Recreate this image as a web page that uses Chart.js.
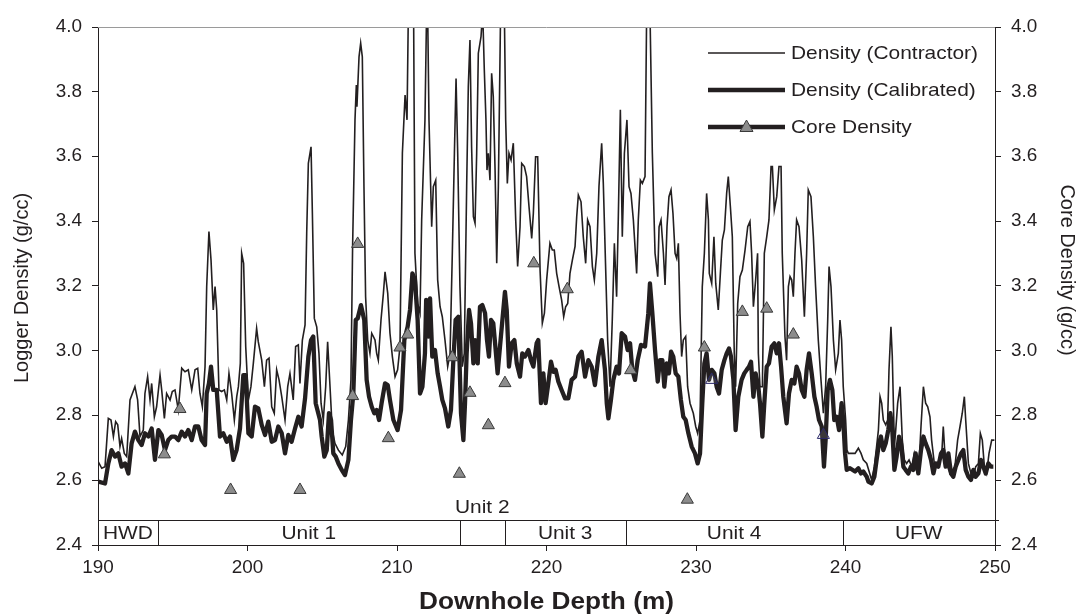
<!DOCTYPE html>
<html>
<head>
<meta charset="utf-8">
<script src="https://cdn.jsdelivr.net/npm/chart.js@4/dist/chart.umd.min.js"></script>
<style>
  html, body { margin: 0; padding: 0; background: #fff; }
  #wrap { width: 1079px; height: 616px; }
</style>
</head>
<body>
<div id="wrap"><canvas id="densityChart" width="1079" height="616"></canvas></div>
<script>
// density log vs depth, with core samples and unit band

const contractorDepth = [190.02,190.25,190.47,190.69,190.87,191.03,191.18,191.32,191.47,191.58,191.76,191.92,192.14,192.30,192.47,192.65,192.81,193.03,193.14,193.32,193.48,193.59,193.77,193.92,194.15,194.26,194.44,194.59,194.82,194.97,195.15,195.37,195.60,195.82,196.04,196.27,196.49,196.67,196.82,196.98,197.16,
  197.27,197.42,197.56,197.71,197.83,197.94,198.09,198.27,198.45,198.61,198.76,198.94,199.12,199.28,199.39,199.52,199.61,199.74,199.88,200.06,200.23,200.39,200.61,200.72,200.95,201.13,201.28,201.44,201.62,201.79,201.95,202.11,202.29,202.51,202.69,202.84,203.06,203.22,203.40,203.51,203.67,203.85,203.96,204.07,204.25,204.34,204.47,204.63,
  204.78,204.92,205.07,205.23,205.36,205.52,205.67,205.85,206.08,206.34,206.57,206.75,206.92,207.03,207.19,207.28,207.32,207.46,207.57,207.68,207.79,207.90,208.04,208.19,208.31,208.42,208.53,208.64,208.75,208.93,209.09,209.20,209.38,209.53,209.69,209.87,210.04,210.20,210.36,210.54,210.67,210.76,211.11,211.20,211.38,211.54,211.65,211.87,211.98,
  212.05,212.14,212.23,212.32,212.43,212.59,212.72,212.88,213.03,213.21,213.39,213.55,213.70,213.84,213.95,214.06,214.21,214.37,214.50,214.66,214.77,214.88,214.99,215.11,215.22,215.33,215.44,215.62,215.73,215.84,215.95,216.02,216.11,216.22,216.33,216.44,216.56,216.67,216.78,216.93,217.18,217.27,217.38,217.49,217.63,217.78,217.94,218.07,218.23,218.34,218.52,218.67,218.83,219.01,219.12,219.27,219.41,
  219.57,219.72,219.86,220.01,220.23,220.39,220.52,220.68,220.84,221.01,221.15,221.28,221.42,221.57,221.73,221.91,222.02,222.13,222.31,222.46,222.62,222.75,222.91,223.07,223.20,223.36,223.51,223.69,223.80,223.96,224.09,224.25,224.40,224.54,224.69,224.80,224.94,225.07,225.21,225.38,225.52,225.65,225.81,226.03,226.14,226.28,226.41,226.59,226.70,
  226.92,227.08,227.26,227.44,227.53,227.66,227.82,227.93,228.06,228.19,228.33,228.46,228.60,228.71,228.82,228.93,229.04,229.15,229.31,229.44,229.60,229.82,229.98,230.11,230.27,230.42,230.56,230.71,230.83,230.89,231.05,231.20,231.32,231.49,231.63,231.76,231.90,232.05,232.16,232.30,232.43,232.56,232.65,232.79,232.94,233.10,233.28,233.46,233.61,233.72,233.84,233.99,234.12,
  234.17,234.28,234.44,234.57,234.73,234.88,235.02,235.11,235.24,235.40,235.55,235.69,235.77,235.95,236.06,236.18,236.29,236.40,236.51,236.62,236.73,236.89,237.07,237.25,237.40,237.51,237.69,237.85,238.00,238.18,238.36,238.52,238.67,238.81,238.90,239.03,239.19,239.34,239.52,239.63,239.74,239.85,240.01,240.10,240.19,240.41,240.64,240.86,241.04,241.19,241.42,
  241.75,241.93,242.08,242.20,242.31,242.42,242.53,242.69,242.82,242.91,243.04,243.13,243.27,243.36,243.49,243.65,243.80,243.94,244.09,244.25,244.43,244.60,244.76,244.92,245.05,245.21,245.36,245.50,245.65,245.76,245.94,246.10,246.25,246.43,246.54,246.66,246.83,246.99,247.15,247.32,247.50,247.66,247.81,247.95,248.04,248.22,248.39,248.55,248.71,248.89,249.02,249.15,249.29,249.44,249.60,249.78,249.96];
const contractorDensity = [2.657,2.637,2.642,2.791,2.786,2.735,2.781,2.771,2.704,2.729,2.683,2.673,2.848,2.868,2.889,2.848,2.735,2.755,2.868,2.920,2.848,2.899,2.796,2.827,2.925,2.879,2.791,2.868,2.848,2.874,2.879,2.817,2.946,2.935,2.941,2.879,2.941,2.946,2.868,2.827,2.951,
  3.198,3.368,3.280,3.126,3.198,3.126,2.879,2.874,2.879,2.848,2.930,2.868,2.786,2.858,2.889,2.961,3.301,3.270,3.013,2.848,2.889,2.961,3.069,3.028,2.971,2.889,2.971,2.977,2.827,2.807,2.941,2.910,2.858,2.786,2.889,2.930,2.848,3.013,3.018,2.899,3.033,3.080,3.363,3.579,3.630,3.424,3.100,3.074,
  2.992,2.838,2.786,2.889,3.028,2.889,2.755,2.714,2.693,2.678,2.704,2.786,2.910,3.322,3.713,3.821,3.754,3.908,3.950,3.908,3.507,3.167,3.033,2.992,3.054,3.044,3.033,2.992,2.971,3.095,3.177,3.244,3.177,3.054,2.982,2.920,2.941,3.013,3.610,3.790,3.713,4.05,4.05,3.301,3.146,3.116,3.404,3.713,4.05,
  4.05,3.713,3.548,3.383,3.507,3.527,3.219,3.136,3.105,3.033,2.951,2.992,3.301,3.610,3.841,3.610,3.198,2.951,2.992,3.507,3.816,3.960,3.630,3.414,3.394,3.610,3.919,3.970,4.05,3.867,3.713,3.558,3.610,3.527,3.857,3.785,3.558,3.270,3.507,4.05,4.05,3.713,3.517,3.610,3.589,3.641,3.404,3.260,3.383,3.579,3.569,3.538,3.445,3.347,3.424,3.599,3.599,
  3.249,3.085,3.116,3.219,3.332,3.311,3.311,3.239,3.198,3.157,3.105,3.136,3.146,3.239,3.280,3.322,3.414,3.481,3.460,3.352,3.270,3.404,3.383,3.260,3.219,3.301,3.507,3.641,3.517,3.249,3.033,2.889,3.095,3.332,3.167,3.404,3.744,3.352,3.610,3.713,3.507,3.486,3.404,3.239,3.404,3.527,3.517,3.538,4.05,
  4.05,3.610,3.301,3.229,3.383,3.404,3.301,3.203,3.383,3.476,3.497,3.424,3.301,3.285,3.332,3.116,2.982,3.033,3.044,2.889,2.838,2.807,2.766,2.745,2.786,3.198,3.301,3.486,3.404,3.239,3.208,3.352,3.208,3.126,3.239,3.342,3.373,3.486,3.538,3.445,3.352,2.992,2.889,3.146,3.229,3.249,3.311,3.383,3.399,3.301,3.136,3.219,3.301,
  2.992,2.889,2.889,3.301,3.352,3.404,3.569,3.569,3.435,3.476,3.569,3.569,3.301,3.044,2.971,3.198,3.229,3.219,3.167,3.301,3.404,3.383,3.280,3.105,3.301,3.497,3.476,3.352,3.198,3.033,2.910,2.807,2.889,3.095,3.260,3.198,3.033,2.941,2.992,3.095,3.033,2.889,2.786,2.693,2.683,2.683,2.683,2.699,2.683,2.663,2.652,
  2.601,2.642,2.704,2.755,2.858,2.838,2.786,2.771,2.786,2.941,3.074,2.982,2.704,2.755,2.838,2.889,2.724,2.663,2.652,2.663,2.642,2.683,2.652,2.652,2.766,2.889,2.838,2.827,2.796,2.724,2.652,2.642,2.663,2.673,2.766,2.673,2.642,2.621,2.632,2.642,2.724,2.766,2.807,2.858,2.786,2.652,2.621,2.611,2.642,2.652,2.745,2.724,2.642,2.621,2.683,2.724,2.724];

const calibratedDepth = [190.02,190.47,190.69,190.91,191.14,191.36,191.58,191.81,192.03,192.25,192.47,192.70,192.92,193.14,193.37,193.59,193.81,194.04,194.26,194.48,194.70,194.93,195.15,195.37,195.60,195.82,196.04,196.27,196.49,196.71,196.93,197.16,
  197.27,197.42,197.56,197.71,197.94,198.16,198.38,198.61,198.83,199.05,199.27,199.50,199.72,199.88,200.06,200.28,200.50,200.72,200.95,201.17,201.39,201.62,201.84,202.06,202.29,202.51,202.73,202.95,203.18,203.40,203.62,203.85,204.07,204.25,204.40,204.56,204.85,
  204.96,205.14,205.30,205.45,205.59,205.74,205.90,206.08,206.30,206.52,206.75,206.92,207.08,207.24,207.37,207.59,207.81,207.97,208.13,208.31,208.48,208.64,208.80,208.97,209.20,209.38,209.53,209.76,210.04,210.27,210.49,210.71,210.87,211.03,211.20,211.38,211.54,211.70,211.87,211.95,
  212.10,212.21,212.36,212.54,212.72,212.88,213.03,213.21,213.43,213.61,213.77,213.92,214.10,214.28,214.44,214.55,214.66,214.82,214.95,215.11,215.22,215.40,215.55,215.71,215.89,216.02,216.15,216.29,216.44,216.56,216.73,216.89,217.05,217.22,217.34,217.49,217.67,217.85,218.01,218.23,218.38,218.56,218.79,218.96,219.12,219.34,
  219.45,219.63,219.79,219.94,220.12,220.30,220.46,220.61,220.79,221.01,221.24,221.46,221.68,221.91,222.13,222.35,222.58,222.80,223.02,223.24,223.47,223.69,223.91,224.03,224.14,224.31,224.47,224.69,224.85,225.03,225.25,225.43,225.59,225.74,225.92,226.10,226.32,226.59,226.81,
  226.92,227.08,227.26,227.44,227.59,227.75,227.88,228.04,228.19,228.33,228.48,228.64,228.82,228.99,229.15,229.31,229.49,229.71,229.93,230.11,230.27,230.42,230.56,230.71,230.87,231.05,231.23,231.38,231.54,231.72,231.90,232.05,232.21,232.34,232.50,232.65,232.83,233.05,233.23,233.39,233.55,233.68,233.84,233.99,234.17,
  234.28,234.44,234.57,234.73,234.88,235.06,235.24,235.40,235.55,235.69,235.84,236.06,236.22,236.40,236.58,236.73,236.89,237.07,237.25,237.40,237.56,237.74,237.92,238.07,238.23,238.41,238.56,238.67,238.81,238.96,239.12,239.25,239.41,239.57,239.74,239.85,239.97,240.08,240.30,240.64,240.86,241.04,241.19,241.42,
  241.53,241.75,241.93,242.08,242.24,242.37,242.53,242.69,242.86,243.00,243.13,243.27,243.42,243.58,243.71,243.87,244.02,244.20,244.38,244.54,244.69,244.87,245.05,245.21,245.36,245.54,245.72,245.88,246.03,246.21,246.39,246.54,246.70,246.88,247.06,247.21,247.37,247.55,247.73,247.88,248.04,248.22,248.39,248.55,248.71,248.89,249.06,249.22,249.38,249.55,249.73,249.89];
const calibratedDensity = [2.596,2.590,2.652,2.693,2.673,2.683,2.642,2.652,2.621,2.714,2.750,2.724,2.709,2.745,2.735,2.760,2.663,2.755,2.740,2.693,2.724,2.735,2.735,2.724,2.750,2.735,2.755,2.724,2.766,2.766,2.724,2.709,
  2.868,2.899,2.951,2.879,2.879,2.735,2.745,2.719,2.735,2.663,2.693,2.760,2.925,2.925,2.745,2.735,2.827,2.822,2.771,2.740,2.781,2.719,2.724,2.766,2.745,2.683,2.740,2.719,2.760,2.796,2.766,2.853,2.982,3.033,3.044,2.838,2.786,
  2.735,2.673,2.693,2.807,2.786,2.683,2.673,2.652,2.632,2.616,2.663,2.786,2.868,3.095,3.100,3.141,3.095,2.910,2.858,2.827,2.807,2.817,2.786,2.838,2.899,2.894,2.848,2.786,2.755,2.817,3.033,3.074,3.126,3.239,3.219,3.095,2.868,2.889,2.992,3.157,
  3.044,3.162,2.982,3.002,2.930,2.889,2.848,2.822,2.766,2.817,2.971,3.095,3.105,2.807,2.724,2.838,2.992,3.126,3.085,2.961,3.033,2.961,3.136,3.141,3.116,3.033,2.982,3.095,3.085,3.023,2.930,3.013,3.095,3.182,3.126,2.951,3.023,3.033,2.961,2.920,2.992,2.982,3.002,2.971,2.951,3.023,
  3.033,2.838,2.930,2.838,2.899,2.966,2.935,2.941,2.905,2.879,2.853,2.853,2.910,2.920,2.982,2.997,2.920,2.971,2.951,2.894,2.982,3.033,2.941,2.838,2.791,2.848,2.910,2.951,2.930,3.054,3.044,3.002,3.023,2.941,2.910,2.971,3.018,3.013,3.116,
  3.208,3.116,3.002,2.905,2.971,2.971,2.889,2.961,2.930,2.997,2.982,2.930,2.920,2.848,2.796,2.786,2.745,2.704,2.683,2.652,2.683,2.838,2.961,2.992,2.910,2.941,2.930,2.889,2.868,2.941,2.971,2.992,3.007,2.982,2.910,2.755,2.858,2.910,2.930,2.941,2.951,2.966,2.858,2.930,2.889,
  2.838,2.735,2.838,2.951,2.961,3.013,3.023,2.992,3.023,2.951,2.858,2.776,2.868,2.910,2.899,2.951,2.930,2.879,2.858,2.941,2.992,2.930,2.858,2.827,2.786,2.766,2.642,2.724,2.879,2.910,2.879,2.786,2.796,2.755,2.838,2.786,2.683,2.632,2.637,2.627,2.637,2.621,2.627,2.611,
  2.596,2.590,2.611,2.663,2.714,2.735,2.693,2.714,2.755,2.807,2.755,2.632,2.673,2.735,2.714,2.642,2.632,2.621,2.642,2.632,2.683,2.621,2.693,2.735,2.714,2.693,2.663,2.621,2.652,2.642,2.683,2.693,2.642,2.683,2.621,2.611,2.642,2.663,2.683,2.693,2.632,2.611,2.601,2.632,2.611,2.621,2.663,2.642,2.621,2.652,2.642,2.642];

const coreDepth = [194.44,195.48,198.87,203.51,207.03,207.37,209.42,210.20,210.71,213.70,214.17,214.88,216.11,217.22,219.15,221.39,225.63,229.42,230.56,231.05,233.10,234.73,236.51,238.52];
const coreDensity = [2.68,2.82,2.57,2.57,2.86,3.33,2.73,3.01,3.05,2.98,2.62,2.87,2.77,2.90,3.27,3.19,2.94,2.54,3.01,2.91,3.12,3.13,3.05,2.74];
const hollowCore = [19, 23]; // drawn as open outline in the original

const unitBounds = [190, 194.0, 214.2, 217.2, 225.3, 239.8, 250];
const unitNames = ['HWD', 'Unit 1', 'Unit 2', 'Unit 3', 'Unit 4', 'UFW'];
const unitBandTop = 2.477;

const legendNames = ['Density (Contractor)', 'Density (Calibrated)', 'Core Density'];

const INK = '#231f20';
const FONT = "'Liberation Sans', Arial, sans-serif";
const SX = 1.13; // the original lettering is a little wide

function pairs(xs, ys) {
    return xs.map((x, i) => ({ x: x, y: ys[i] }));
}

// text with a horizontal stretch, to match the wide lettering
function wideText(ctx, s, x, y, size, align, bold, sx) {
    ctx.save();
    ctx.font = (bold ? 'bold ' : '') + size + 'px ' + FONT;
    ctx.translate(x, y);
    ctx.scale(sx, 1);
    ctx.textAlign = align;
    ctx.textBaseline = 'middle';
    ctx.fillStyle = INK;
    ctx.fillText(s, 0, 0);
    ctx.restore();
}

function sideText(ctx, s, x, y, size, angle) {
    ctx.save();
    ctx.font = size + 'px ' + FONT;
    ctx.translate(x, y);
    ctx.rotate(angle);
    ctx.textAlign = 'center';
    ctx.textBaseline = 'middle';
    ctx.fillStyle = INK;
    ctx.fillText(s, 0, 0);
    ctx.restore();
}

const decor = {
    id: 'decor',
    afterDatasetsDraw(chart) {
        const ctx = chart.ctx;
        const xs = chart.scales.x;
        const ys = chart.scales.y;
        const a = chart.chartArea;
        ctx.save();

        // grey top frame
        ctx.strokeStyle = '#9a9a9a';
        ctx.lineWidth = 1;
        ctx.beginPath();
        ctx.moveTo(a.left, a.top + 0.5);
        ctx.lineTo(a.right, a.top + 0.5);
        ctx.stroke();

        // unit band
        const bandY = Math.round(ys.getPixelForValue(unitBandTop)) + 0.5;
        ctx.strokeStyle = INK;
        ctx.beginPath();
        ctx.moveTo(a.left, bandY);
        ctx.lineTo(a.right + 4, bandY);
        for (let i = 1; i < unitBounds.length - 1; i++) {
            const px = Math.round(xs.getPixelForValue(unitBounds[i])) + 0.5;
            ctx.moveTo(px, bandY);
            ctx.lineTo(px, a.bottom);
        }
        ctx.stroke();

        ctx.font = '18.5px ' + FONT;
        for (let i = 0; i < unitNames.length; i++) {
            const p0 = xs.getPixelForValue(unitBounds[i]);
            const p1 = xs.getPixelForValue(unitBounds[i + 1]);
            const tw = ctx.measureText(unitNames[i]).width * SX;
            const cy = tw + 6 > p1 - p0 ? bandY - 13 : (bandY + a.bottom) / 2 + 1;
            wideText(ctx, unitNames[i], (p0 + p1) / 2, cy, 18.5, 'center', false, SX);
        }

        // legend
        const lx0 = 708, lx1 = 785, tx = 791;
        const rows = [53, 90, 127];
        ctx.strokeStyle = INK;
        ctx.lineWidth = 1.5;
        ctx.beginPath(); ctx.moveTo(lx0, rows[0]); ctx.lineTo(lx1, rows[0]); ctx.stroke();
        ctx.lineWidth = 4.5;
        ctx.beginPath(); ctx.moveTo(lx0, rows[1]); ctx.lineTo(lx1, rows[1]); ctx.stroke();
        ctx.beginPath(); ctx.moveTo(lx0, rows[2]); ctx.lineTo(lx1, rows[2]); ctx.stroke();
        const mx = (lx0 + lx1) / 2;
        ctx.fillStyle = '#8c8c8c';
        ctx.lineWidth = 1;
        ctx.strokeStyle = '#3a3a3a';
        ctx.beginPath();
        ctx.moveTo(mx, rows[2] - 7);
        ctx.lineTo(mx + 6.5, rows[2] + 4.5);
        ctx.lineTo(mx - 6.5, rows[2] + 4.5);
        ctx.closePath();
        ctx.fill();
        ctx.stroke();
        legendNames.forEach((n, i) => wideText(ctx, n, tx, rows[i] + 1, 18.5, 'left', false, SX));

        ctx.restore();
    },
    afterDraw(chart) {
        const ctx = chart.ctx;
        const xs = chart.scales.x;
        const ys = chart.scales.y;
        const ys2 = chart.scales.y2;
        const a = chart.chartArea;

        // x axis line runs a little past the frame
        ctx.save();
        ctx.strokeStyle = INK;
        ctx.lineWidth = 1;
        ctx.beginPath();
        ctx.moveTo(a.left - 5, a.bottom + 0.5);
        ctx.lineTo(a.right + 5, a.bottom + 0.5);
        ctx.stroke();
        ctx.restore();

        // tick labels
        ys.ticks.forEach(t => wideText(ctx, t.value.toFixed(1), a.left - 16, ys.getPixelForValue(t.value), 17.5, 'right', false, 1.08));
        ys2.ticks.forEach(t => wideText(ctx, t.value.toFixed(1), a.right + 16, ys2.getPixelForValue(t.value), 17.5, 'left', false, 1.08));
        xs.ticks.forEach(t => wideText(ctx, String(t.value), xs.getPixelForValue(t.value), a.bottom + 23, 17.5, 'center', false, 1.08));

        // axis titles
        wideText(ctx, 'Downhole Depth (m)', (a.left + a.right) / 2, 603, 23, 'center', true, 1.14);
        sideText(ctx, 'Logger Density (g/cc)', 22, 288, 20, -Math.PI / 2);
        sideText(ctx, 'Core Density (g/cc)', 1067, 270, 20, Math.PI / 2);
    }
};

document.addEventListener('DOMContentLoaded', function() {
    const canvas = document.getElementById('densityChart');

    new Chart(canvas, {
        type: 'line',
        data: {
            datasets: [
                {
                    label: 'Core Density',
                    data: pairs(coreDepth, coreDensity),
                    yAxisID: 'y2',
                    showLine: false,
                    pointStyle: 'triangle',
                    pointRadius: 7,
                    pointBorderWidth: 1,
                    pointBackgroundColor: ctx => hollowCore.includes(ctx.dataIndex) ? 'rgba(200,200,210,0.15)' : '#8c8c8c',
                    pointBorderColor: ctx => hollowCore.includes(ctx.dataIndex) ? '#2c2a6a' : '#3a3a3a'
                },
                {
                    label: 'Density (Calibrated)',
                    data: pairs(calibratedDepth, calibratedDensity),
                    yAxisID: 'y',
                    borderColor: INK,
                    borderWidth: 4.3,
                    pointRadius: 0,
                    tension: 0,
                    borderJoinStyle: 'round'
                },
                {
                    label: 'Density (Contractor)',
                    data: pairs(contractorDepth, contractorDensity),
                    yAxisID: 'y',
                    borderColor: INK,
                    borderWidth: 1.6,
                    pointRadius: 0,
                    tension: 0
                }
            ]
        },
        options: {
            responsive: false,
            animation: false,
            layout: { padding: { top: 27, left: 0, right: 0, bottom: 0 } },
            plugins: {
                legend: { display: false },
                tooltip: { enabled: false }
            },
            scales: {
                x: {
                    type: 'linear',
                    min: 190,
                    max: 250,
                    afterFit: s => { s.height = 71; },
                    ticks: { stepSize: 10, display: false },
                    grid: { drawOnChartArea: false, tickLength: 6, color: INK },
                    border: { color: INK, width: 1 }
                },
                y: {
                    position: 'left',
                    min: 2.4,
                    max: 4.0,
                    afterFit: s => { s.width = 98; },
                    ticks: { stepSize: 0.2, display: false },
                    grid: { drawOnChartArea: false, tickLength: 6, color: INK },
                    border: { color: INK, width: 1 }
                },
                y2: {
                    position: 'right',
                    min: 2.4,
                    max: 4.0,
                    afterFit: s => { s.width = 84; },
                    ticks: { stepSize: 0.2, display: false },
                    grid: { drawOnChartArea: false, tickLength: 6, color: INK },
                    border: { color: INK, width: 1 }
                }
            }
        },
        plugins: [decor]
    });
});
</script>
</body>
</html>
